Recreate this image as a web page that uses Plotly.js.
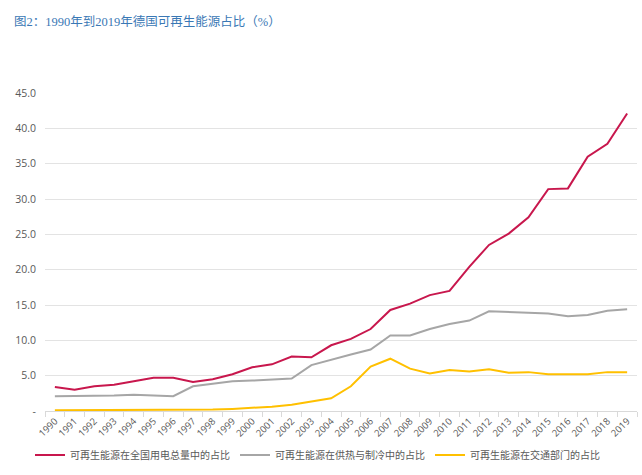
<!DOCTYPE html>
<html>
<head>
<meta charset="utf-8">
<script src="https://cdn.plot.ly/plotly-3.0.1.min.js"></script>
<style>html,body{margin:0;padding:0;background:#fff;}#chart{width:642px;height:475px;}</style>
</head>
<body>
<div id="chart"></div>
<script>
var years = ['1990','1991','1992','1993','1994','1995','1996','1997','1998','1999','2000','2001','2002','2003','2004','2005','2006','2007','2008','2009','2010','2011','2012','2013','2014','2015','2016','2017','2018','2019'];
var electricity = [3.4,3.0,3.5,3.7,4.2,4.7,4.7,4.1,4.5,5.2,6.2,6.6,7.7,7.6,9.3,10.2,11.6,14.3,15.2,16.4,17.0,20.4,23.5,25.1,27.4,31.4,31.5,36.0,37.8,42.1];
var heating = [2.1,2.1,2.2,2.2,2.3,2.2,2.1,3.5,3.8,4.2,4.3,4.5,4.6,6.5,7.3,8.0,8.7,10.7,10.7,11.6,12.3,12.8,14.1,14.0,14.0,13.8,13.4,13.6,14.2,14.4];
var transport = [0.1,0.1,0.1,0.1,0.1,0.1,0.1,0.2,0.2,0.3,0.4,0.6,0.9,1.3,1.8,3.5,6.3,7.4,6.0,5.3,5.8,5.6,5.9,5.4,5.5,5.2,5.2,5.2,5.5,5.5];
var seriesNames = ['可再生能源在全国用电总量中的占比','可再生能源在供热与制冷中的占比','可再生能源在交通部门的占比'];
var yTickVals = [0,5,10,15,20,25,30,35,40,45];
var yTickText = ['-','5.0','10.0','15.0','20.0','25.0','30.0','35.0','40.0','45.0'];
var titleText = '图2：1990年到2019年德国可再生能源占比（%）';

var colors = ['#C8174D','#A6A6A6','#FFC000'];
var vals = [electricity, heating, transport];
var traces = vals.map(function(v,i){
  return {x: years, y: v, type:'scatter', mode:'lines', name: seriesNames[i],
    line:{color: colors[i], width: 2}, hoverinfo:'skip'};
});

var layout = {
  width: 642, height: 475,
  margin: {l:45, r:5, t:93, b:64},
  paper_bgcolor:'#fff', plot_bgcolor:'#fff',
  font: {family:'"Noto Sans CJK SC", "Noto Sans", sans-serif', color:'#595959', size:10},
  title: {text: titleText, xref:'container', x: 14/642, xanchor:'left', yref:'container', y: 1-22/475, yanchor:'middle',
    font:{family:'"Liberation Serif", "Noto Sans CJK SC", serif', size:12.5, color:'#3A78B5'}},
  xaxis: {type:'category', range:[-0.5,29.5], tickson:'boundaries', ticks:'outside', ticklen:5, tickcolor:'#D9D9D9',
    showline:true, linecolor:'#D9D9D9', linewidth:1, showgrid:false, tickangle:-45,
    tickfont:{family:'"Open Sans", "Noto Sans", sans-serif', size:9.5, color:'#595959'}, fixedrange:true},
  yaxis: {range:[0,45], tickvals: yTickVals, ticktext: yTickText, showgrid:true, gridcolor:'#E3E3E3', gridwidth:1,
    zeroline:false, showline:false, ticks:'', ticklabelstandoff:8,
    tickfont:{family:'"Open Sans", "Noto Sans", sans-serif', size:10.5, color:'#595959'}, fixedrange:true},
  showlegend:true,
  legend: {orientation:'h', xref:'container', yref:'container', x: 30/642, xanchor:'left', y: 1-455/475, yanchor:'middle',
    font:{family:'"Noto Sans CJK SC", sans-serif', size:10, color:'#595959'}, itemwidth:30, bgcolor:'rgba(0,0,0,0)'}
};
Plotly.newPlot('chart', traces, layout, {displayModeBar:false, staticPlot:true});
</script>
</body>
</html>
